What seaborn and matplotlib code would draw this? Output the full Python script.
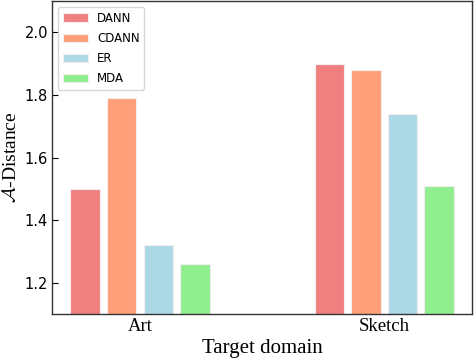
import matplotlib
matplotlib.use("Agg")
from matplotlib import pyplot as plt
import pandas as pd
import seaborn as sns

domains = ["Art", "Sketch"]
methods = ["DANN", "CDANN", "ER", "MDA"]
art_values = [1.50, 1.79, 1.32, 1.26]
sketch_values = [1.90, 1.88, 1.74, 1.51]
colors = ["#F08080", "#FFA07A", "#ADD8E6", "#90EE90"]

def build_frame():
    rows = []
    for d, vals in zip(domains, [art_values, sketch_values]):
        for m, v in zip(methods, vals):
            rows.append({"domain": d, "method": m, "value": v})
    return pd.DataFrame(rows)

def plot():
    df = build_frame()
    plt.rcParams["mathtext.fontset"] = "cm"
    fig = plt.figure(figsize=(4.74, 3.6), dpi=100)
    ax = fig.add_axes([0.11, 0.128, 0.886, 0.869])
    sns.barplot(data=df, x="domain", y="value", hue="method", hue_order=methods,
                palette=colors, width=0.6, gap=0.2, edgecolor="#f4eeee", linewidth=0.8,
                ax=ax, saturation=1)
    ax.set_ylim(1.1, 2.1)
    ax.set_xlim(-0.36, 1.36)
    ax.set_yticks([1.2, 1.4, 1.6, 1.8, 2.0])
    ax.tick_params(axis="y", direction="in", length=4, labelsize=10.5, left=True, pad=3)
    ax.tick_params(axis="x", length=0, labelsize=13.5, pad=3)
    for lab in ax.get_xticklabels():
        lab.set_family("Liberation Serif")
    ax.set_xlabel("Target domain", family="Liberation Serif", fontsize=15, labelpad=3)
    ax.set_ylabel(r"$\mathcal{A}$-Distance", family="Liberation Serif", fontsize=14, labelpad=3)
    for s in ax.spines.values():
        s.set_visible(True)
        s.set_color("#333333")
        s.set_linewidth(1.0)
    ax.legend(loc="upper left", fontsize=8.5, frameon=True, handlelength=2.1, labelspacing=0.6)
    fig.savefig("out.png", dpi=100)

if __name__ == "__main__":
    plot()
